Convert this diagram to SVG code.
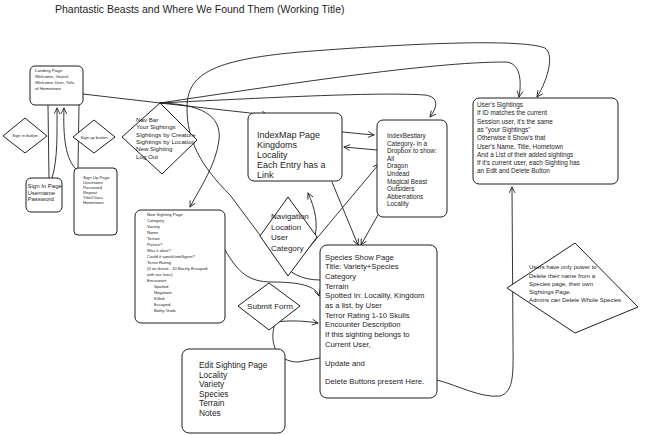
<svg xmlns="http://www.w3.org/2000/svg" width="648" height="435" viewBox="0 0 648 435">
<defs>
<marker id="ah" viewBox="0 0 10 10" refX="9" refY="5" markerWidth="7" markerHeight="7" orient="auto-start-reverse" markerUnits="userSpaceOnUse">
<path d="M1,1 L9,5 L1,9" fill="none" stroke="#1e1e1e" stroke-width="1.2" stroke-linecap="round" stroke-linejoin="round"/>
</marker>
<style>
.c{fill:none;stroke:#1e1e1e;stroke-width:0.9;stroke-linecap:round;stroke-linejoin:round}
.a{marker-end:url(#ah)}
.n{fill:#ffffff;stroke:#1e1e1e;stroke-width:1;stroke-linejoin:round}
text{font-family:"Liberation Sans",Arial,sans-serif;fill:#1e1e1e}
</style>
</defs>
<rect width="648" height="435" fill="#ffffff"/>
<text x="55" y="13" font-size="10.5">Phantastic Beasts and Where We Found Them (Working Title)</text>

<g id="connectors">
<path class="c" d="M83,94 L160,103"/>
<path class="c" d="M48,105 L49,178"/>
<path class="c a" d="M52,178 C 58,160 57,130 57,108"/>
<path class="c" d="M79,105 L78,168"/>
<path class="c a" d="M77,170 C 65,160 63,135 64,108"/>
<path class="c a" d="M160,103 L268,115"/>
<path class="c a" d="M160,103 C 280,97 380,92 425,95 C 440,97 437,108 430,117"/>
<path class="c a" d="M160,103 C 280,85 430,62 505,62 C 520,62 522,80 519,97"/>
<path class="c a" d="M320,280 C 300,280 290,272 280,262 L 230,195 C 200,165 187,140 187,108 C 187,75 210,60 300,52 C 400,44 520,38 545,48 C 556,56 545,85 537,97"/>
<path class="c a" d="M160,103 C 200,104 222,115 219,140 C 216,165 200,188 190,207"/>
<path class="c a" d="M342,132 L374,135"/>
<path class="c a" d="M377,150 L344,147"/>
<path class="c a" d="M332,182 L358,245"/>
<path class="c a" d="M379,213 L361,245"/>
<path class="c a" d="M314,240 C 319,225 315,208 308,193"/>
<path class="c a" d="M292,268 L379,164"/>
<path class="c a" d="M225,250 C 238,272 248,282 272,282 C 300,282 316,286 319,296"/>
<path class="c a" d="M276,322 C 290,320 305,321 318,323"/>
<path class="c" d="M275,323 C 268,345 278,362 298,362 L 320,358"/>
<path class="c a" d="M437,380 C 460,386 480,398 500,396 C 515,392 513,370 513,340 L 512,187"/>
</g>

<g id="landing">
<rect class="n" x="30" y="66" width="53" height="39" rx="5"/>
<text font-size="4.4"><tspan x="35" y="71.5">Landing Page</tspan><tspan x="35" y="77.5">Welcome, Guest/</tspan><tspan x="35" y="83.5">Welcome User, Title,</tspan><tspan x="35" y="89.5">of Hometown</tspan></text>
</g>
<g id="signin-btn">
<path class="n" d="M25,118 L47,136 L25,153 L3,136 Z"/>
<text x="25" y="137" font-size="4.2" text-anchor="middle">Sign in button</text>
</g>
<g id="signup-btn">
<path class="n" d="M94,120 L115,137 L94,153 L73,137 Z"/>
<text x="94" y="138.5" font-size="4.2" text-anchor="middle">Sign up button</text>
</g>
<g id="signin-page">
<rect class="n" x="26" y="178" width="36" height="34" rx="5"/>
<text font-size="6"><tspan x="27.5" y="188">Sign In Page</tspan><tspan x="27.5" y="194.5">Username</tspan><tspan x="27.5" y="201">Password</tspan></text>
</g>
<g id="signup-page">
<rect class="n" x="74" y="168" width="43" height="67" rx="4"/>
<text font-size="4.3"><tspan x="83" y="178.5">Sign Up Page</tspan><tspan x="83" y="183.5">Username</tspan><tspan x="83" y="188.5">Password</tspan><tspan x="83" y="193.5">Repeat</tspan><tspan x="83" y="198.5">Title/Class</tspan><tspan x="83" y="203.5">Hometown</tspan></text>
</g>
<g id="navbar">
<path class="n" d="M160,103 L197,140 L162,174 L122,137 Z"/>
<text font-size="6.2"><tspan x="136" y="122">Nav Bar</tspan><tspan x="136" y="129.3">Your Sightings</tspan><tspan x="136" y="136.6">Sightings by Creature</tspan><tspan x="136" y="143.9">Sightings by Location</tspan><tspan x="136" y="151.2">New Sighting</tspan><tspan x="136" y="158.5">Log Out</tspan></text>
</g>
<g id="new-sighting">
<rect class="n" x="135" y="210" width="90" height="113" rx="6"/>
<text font-size="4.2"><tspan x="147" y="216">New Sighting Page</tspan><tspan x="147" y="222">Category</tspan><tspan x="147" y="228">Variety</tspan><tspan x="147" y="234">Name</tspan><tspan x="147" y="240">Terrain</tspan><tspan x="147" y="246">Picture?</tspan><tspan x="147" y="252">Was it alive?</tspan><tspan x="147" y="258">Could it speak/intelligent?</tspan><tspan x="147" y="264">Terror Rating</tspan><tspan x="147" y="270">(0 on threat - 10 Barely Escaped</tspan><tspan x="147" y="276">with our lives)</tspan><tspan x="147" y="282">Encounter:</tspan><tspan x="154" y="288">Spotted</tspan><tspan x="154" y="294">Negotiate</tspan><tspan x="154" y="300">Killed</tspan><tspan x="154" y="306">Escaped</tspan><tspan x="154" y="312">Bathy Gods</tspan></text>
</g>
<g id="indexmap">
<rect class="n" x="248" y="113" width="94" height="68" rx="6"/>
<text font-size="9"><tspan x="257" y="138">IndexMap Page</tspan><tspan x="257" y="148">Kingdoms</tspan><tspan x="257" y="158">Locality</tspan><tspan x="257" y="168">Each Entry has a</tspan><tspan x="257" y="178">Link</tspan></text>
</g>
<g id="indexbestiary">
<rect class="n" x="377" y="120" width="70" height="97" rx="6"/>
<text font-size="6.4"><tspan x="387" y="138">IndexBestiary</tspan><tspan x="387" y="145.6">Category- in a</tspan><tspan x="387" y="153.2">Dropbox to show:</tspan><tspan x="387" y="160.8">All</tspan><tspan x="387" y="168.4">Dragon</tspan><tspan x="387" y="176">Undead</tspan><tspan x="387" y="183.6">Magical Beast</tspan><tspan x="387" y="191.2">Outsiders</tspan><tspan x="387" y="198.8">Abberrations</tspan><tspan x="387" y="206.4">Locality</tspan></text>
</g>
<g id="navigation">
<path class="n" d="M288,197 L317,237 L288,276 L260,236 Z"/>
<text font-size="8"><tspan x="271" y="219">Navigation</tspan><tspan x="271" y="229.5">Location</tspan><tspan x="271" y="240">User</tspan><tspan x="271" y="250.5">Category</tspan></text>
</g>
<g id="species">
<rect class="n" x="320" y="245" width="117" height="153" rx="7"/>
<text font-size="7.7"><tspan x="325" y="259.5">Species Show Page</tspan><tspan x="325" y="269.2">Title: Variety+Species</tspan><tspan x="325" y="278.9">Category</tspan><tspan x="325" y="288.6">Terrain</tspan><tspan x="325" y="298.3">Spotted In: Locality, Kingdom</tspan><tspan x="325" y="308">as a list, by User</tspan><tspan x="325" y="317.7">Terror Rating 1-10 Skulls</tspan><tspan x="325" y="327.4">Encounter Description</tspan><tspan x="325" y="337.1">If this sighting belongs to</tspan><tspan x="325" y="346.8">Current User,</tspan><tspan x="325" y="366.2">Update and</tspan><tspan x="325" y="383.5">Delete Buttons present Here.</tspan></text>
</g>
<g id="submit-form">
<path class="n" d="M269,283 L300,306 L269,330 L238,306 Z"/>
<text x="270" y="309" font-size="8" text-anchor="middle">Submit Form</text>
</g>
<g id="edit-sighting">
<rect class="n" x="182" y="349" width="103" height="84" rx="7"/>
<text font-size="8.3"><tspan x="199" y="368">Edit Sighting Page</tspan><tspan x="199" y="377.5">Locality</tspan><tspan x="199" y="387">Variety</tspan><tspan x="199" y="396.5">Species</tspan><tspan x="199" y="406">Terrain</tspan><tspan x="199" y="415.5">Notes</tspan></text>
</g>
<g id="users-sightings">
<rect class="n" x="473" y="98" width="145" height="86" rx="6"/>
<text font-size="6.4"><tspan x="477" y="107">User's Sightings</tspan><tspan x="477" y="115.3">If ID matches the current</tspan><tspan x="477" y="123.6">Session user, it's the same</tspan><tspan x="477" y="131.9">as "your Sightings"</tspan><tspan x="477" y="140.2">Otherwise it Show's that</tspan><tspan x="477" y="148.5">User's Name, Title, Hometown</tspan><tspan x="477" y="156.8">And a List of their added sightings</tspan><tspan x="477" y="165.1">If it's current user, each Sighting has</tspan><tspan x="477" y="173.4">an Edit and Delete Button</tspan></text>
</g>
<g id="permissions">
<path class="n" d="M575,243 L638,307 L575,333 L507,288 Z"/>
<text font-size="6"><tspan x="529" y="269">Users have only power to</tspan><tspan x="529" y="277.5">Delete their name from a</tspan><tspan x="529" y="286">Species page, their own</tspan><tspan x="529" y="294">Sightings Page.</tspan><tspan x="529" y="302">Admins can Delete Whole Species</tspan></text>
</g>
</svg>
